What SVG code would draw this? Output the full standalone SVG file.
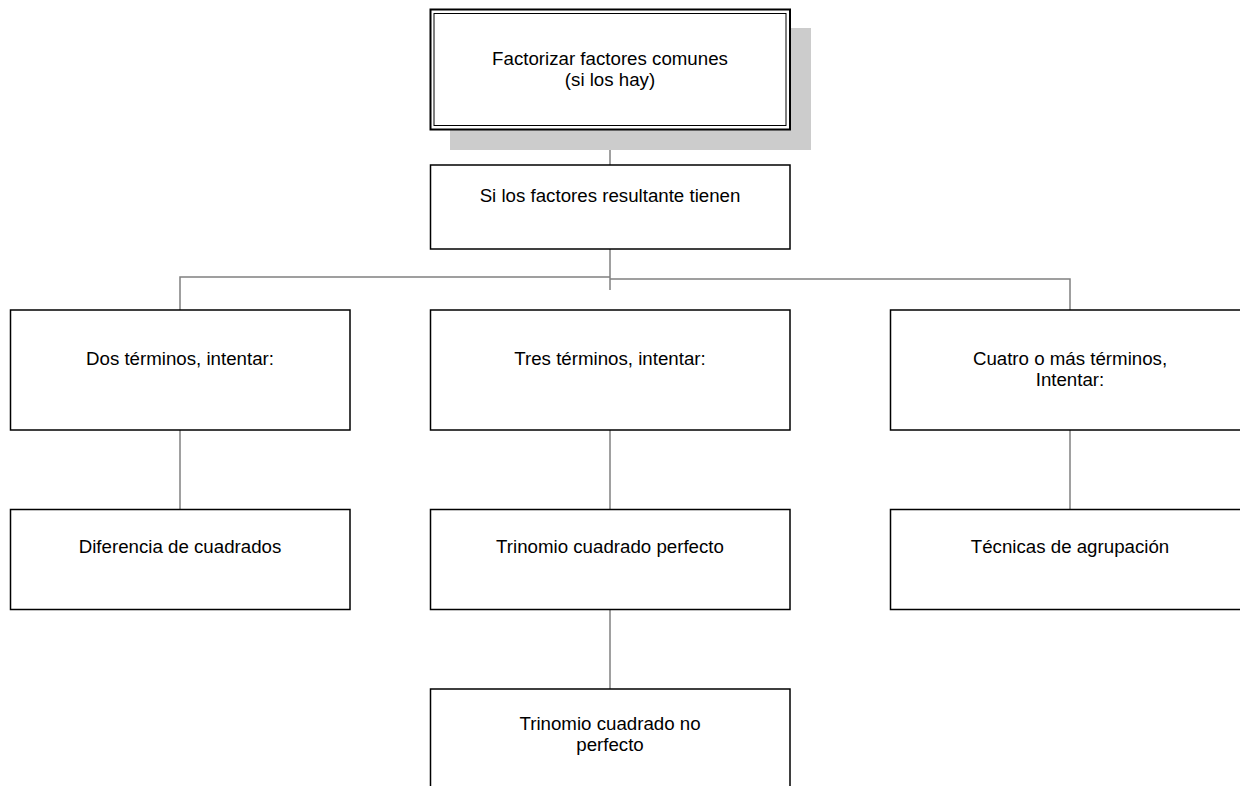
<svg xmlns="http://www.w3.org/2000/svg" width="1240" height="786" viewBox="0 0 1240 786">
<style>
.box{fill:#fff;stroke:#000;stroke-width:1.5}
.t{font-family:"Liberation Sans",Arial,sans-serif;font-size:18.7px;fill:#000;text-anchor:middle}
.c{fill:none;stroke:#808080;stroke-width:1.5}
</style>
<rect width="1240" height="786" fill="#fff"/>
<g id="connectors">
<line class="c" x1="610" y1="130" x2="610" y2="165"/>
<line class="c" x1="610" y1="249" x2="610" y2="290"/>
<polyline class="c" points="610,277 180,277 180,310"/>
<polyline class="c" points="610,279 1070,279 1070,310"/>
<line class="c" x1="180" y1="430" x2="180" y2="510"/>
<line class="c" x1="610" y1="430" x2="610" y2="510"/>
<line class="c" x1="1070" y1="430" x2="1070" y2="510"/>
<line class="c" x1="610" y1="610" x2="610" y2="689"/>
</g>
<g id="n1">
<rect x="450" y="28" width="361" height="122" fill="#cccccc"/>
<rect x="430.5" y="9.5" width="359.5" height="120" fill="#fff" stroke="#000" stroke-width="2"/>
<rect x="434" y="13.5" width="352" height="112" fill="none" stroke="#000" stroke-width="1"/>
<text class="t" x="610" y="65">Factorizar factores comunes</text>
<text class="t" x="610" y="86">(si los hay)</text>
</g>
<g id="n2">
<rect class="box" x="430.5" y="165" width="359.5" height="84"/>
<text class="t" x="610" y="201.5">Si los factores resultante tienen</text>
</g>
<g id="n3">
<rect class="box" x="10.5" y="310" width="339.5" height="120"/>
<text class="t" x="180" y="365">Dos términos, intentar:</text>
</g>
<g id="n4">
<rect class="box" x="430.5" y="310" width="359.5" height="120"/>
<text class="t" x="610" y="365">Tres términos, intentar:</text>
</g>
<g id="n5">
<rect class="box" x="890.5" y="310" width="360" height="120"/>
<text class="t" x="1070" y="365">Cuatro o más términos,</text>
<text class="t" x="1070" y="386">Intentar:</text>
</g>
<g id="n6">
<rect class="box" x="10.5" y="509.5" width="339.5" height="100"/>
<text class="t" x="180" y="553">Diferencia de cuadrados</text>
</g>
<g id="n7">
<rect class="box" x="430.5" y="509.5" width="359.5" height="100"/>
<text class="t" x="610" y="553">Trinomio cuadrado perfecto</text>
</g>
<g id="n8">
<rect class="box" x="890.5" y="509.5" width="360" height="100"/>
<text class="t" x="1070" y="553">Técnicas de agrupación</text>
</g>
<g id="n9">
<rect class="box" x="430.5" y="689" width="359.5" height="120"/>
<text class="t" x="610" y="730">Trinomio cuadrado no</text>
<text class="t" x="610" y="751">perfecto</text>
</g>
</svg>
